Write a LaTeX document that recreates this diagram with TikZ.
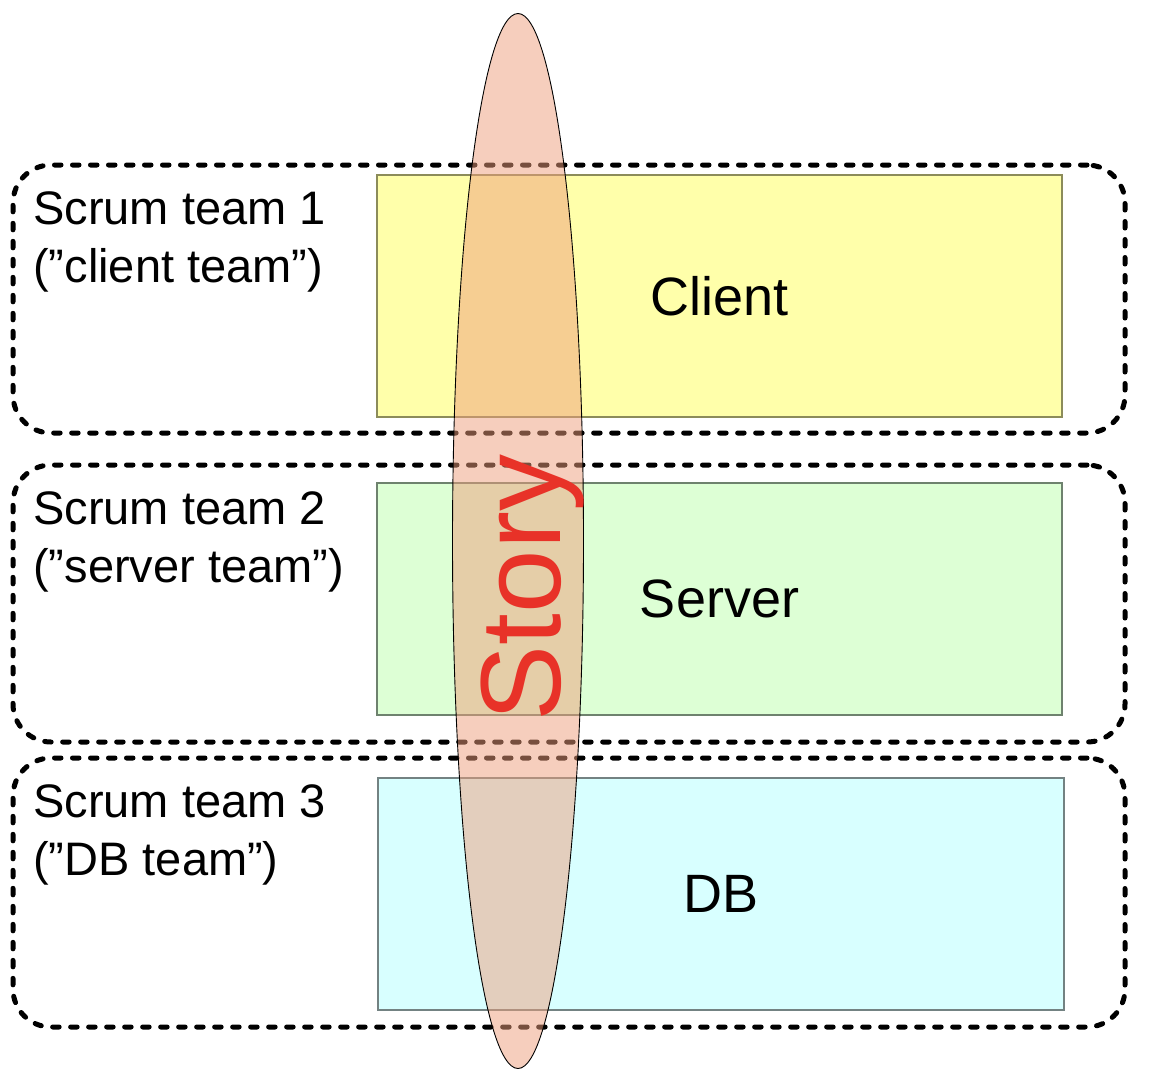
\documentclass[tikz,border=0pt]{standalone}
\usepackage{fontspec}
\setmainfont{Liberation Sans}
\usetikzlibrary{shapes.geometric}
\definecolor{clientfill}{RGB}{255,255,170}
\definecolor{clientline}{RGB}{140,140,90}
\definecolor{serverfill}{RGB}{221,255,213}
\definecolor{serverline}{RGB}{110,130,110}
\definecolor{dbfill}{RGB}{216,255,255}
\definecolor{dbline}{RGB}{115,130,130}
\definecolor{storyfill}{RGB}{238,158,124}
\definecolor{storyred}{RGB}{232,50,40}
\tikzset{
  teambox/.style={draw=black, line width=5pt, dash pattern=on 6.5pt off 11.5pt, line cap=round, rounded corners=38pt, minimum width=1112pt, inner sep=0pt},
  layerbox/.style={line width=1.3pt, inner sep=0pt, font=\fontsize{54}{60}\selectfont},
  teamlabel/.style={anchor=north west, inner sep=0pt, align=left, font=\fontsize{47}{58}\selectfont},
}
\begin{document}
\begin{tikzpicture}[x=1pt,y=-1pt]
\useasboundingbox (0,0) rectangle (1154,1084);
\fill[white] (0,0) rectangle (1154,1084);
% team boxes
\node[teambox, minimum height=268pt] (t1) at (569,299) {};
\node[teambox, minimum height=277pt] (t2) at (569,603.5) {};
\node[teambox, minimum height=269pt] (t3) at (569,892.5) {};
% layer boxes
\node[layerbox, draw=clientline, fill=clientfill, minimum width=685pt, minimum height=242pt] (client) at (719.5,296) {Client};
\node[layerbox, draw=serverline, fill=serverfill, minimum width=685pt, minimum height=232pt] (server) at (719.5,599) {Server};
\node[layerbox, draw=dbline, fill=dbfill, minimum width=686pt, minimum height=232pt] (db) at (721,894) {DB};
% team labels
\node[teamlabel] (l1) at (33,191) {Scrum team 1\\(”client team”)};
\node[teamlabel] (l2) at (33,491) {Scrum team 2\\(”server team”)};
\node[teamlabel] (l3) at (33,784) {Scrum team 3\\(”DB team”)};
% story ellipse
\node[ellipse, draw=black, line width=0.9pt, fill=storyfill, fill opacity=0.5, draw opacity=1, minimum width=131pt, minimum height=1055pt, inner sep=0pt] (story) at (518,541) {};
\node[rotate=90, anchor=base, inner sep=0pt, text=storyred, font=\fontsize{114}{120}\selectfont] (storytext) at (560,588) {Story};
\end{tikzpicture}
\end{document}
